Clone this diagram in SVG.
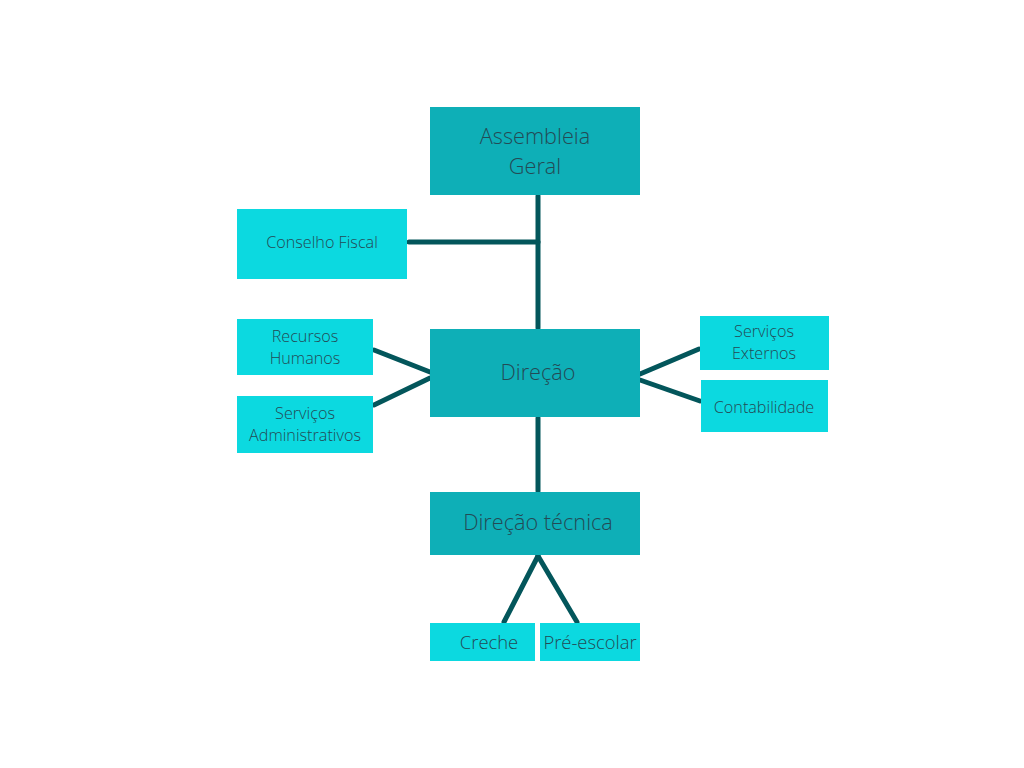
<svg xmlns="http://www.w3.org/2000/svg" width="1024" height="768" viewBox="0 0 1024 768">
<style>
.dk{fill:#0eafb7}
.lt{fill:#0cd9e0}
text{font-family:"Open Sans","Noto Sans",sans-serif;font-weight:300;fill:#234a55;text-anchor:middle}
.b{font-size:21.7px}
.s{font-size:16.2px}
.m{font-size:18.4px}
.c line{stroke:#03565b;stroke-width:5;stroke-linecap:round}
</style>
<rect width="1024" height="768" fill="#fff"/>
<g class="c" id="connectors">
<line x1="538" y1="196" x2="538" y2="328"/>
<line x1="409" y1="242" x2="538" y2="242"/>
<line x1="374" y1="350" x2="430" y2="372"/>
<line x1="374" y1="405" x2="430" y2="378"/>
<line x1="640" y1="374" x2="699" y2="349"/>
<line x1="640" y1="380" x2="700" y2="401"/>
<line x1="538" y1="418" x2="538" y2="491"/>
<line x1="538" y1="556" x2="504" y2="622"/>
<line x1="538" y1="556" x2="577" y2="622"/>
</g>
<g id="assembleia"><rect class="dk" x="430" y="107" width="210" height="88"/><text class="b" x="535" y="144">Assembleia</text><text class="b" x="535" y="174">Geral</text></g>
<g id="conselho"><rect class="lt" x="237" y="209" width="170" height="70"/><text class="s" x="322" y="248">Conselho Fiscal</text></g>
<g id="rh"><rect class="lt" x="237" y="319" width="136" height="56"/><text class="s" x="305" y="342">Recursos</text><text class="s" x="305" y="364">Humanos</text></g>
<g id="sa"><rect class="lt" x="237" y="396" width="136" height="57"/><text class="s" x="305" y="419">Serviços</text><text class="s" x="305" y="441">Administrativos</text></g>
<g id="direcao"><rect class="dk" x="430" y="329" width="210" height="88"/><text class="b" x="538" y="380">Direção</text></g>
<g id="se"><rect class="lt" x="700" y="316" width="129" height="54"/><text class="s" x="764" y="337">Serviços</text><text class="s" x="764" y="359">Externos</text></g>
<g id="cont"><rect class="lt" x="701" y="380" width="127" height="52"/><text class="s" x="764" y="413">Contabilidade</text></g>
<g id="dt"><rect class="dk" x="430" y="492" width="210" height="63"/><text class="b" x="538" y="530">Direção técnica</text></g>
<g id="creche"><rect class="lt" x="430" y="623" width="105" height="38"/><text class="m" x="489" y="649">Creche</text></g>
<g id="pre"><rect class="lt" x="540" y="623" width="100" height="38"/><text class="m" x="590" y="649">Pré-escolar</text></g>
</svg>
